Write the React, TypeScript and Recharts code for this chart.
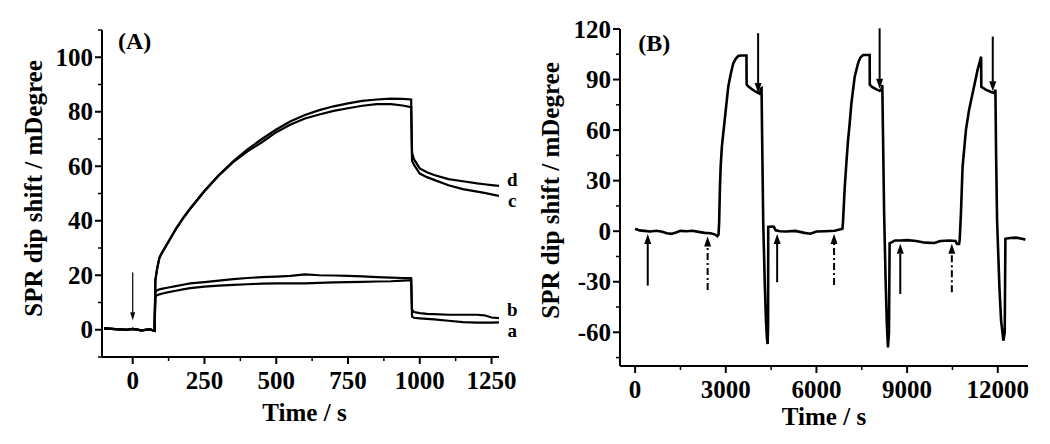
import { LineChart, Line, XAxis, YAxis, ReferenceLine, ReferenceDot } from 'recharts';

const FONT = "'Liberation Serif', 'Times New Roman', serif";

// ---- panel (A) ----
const timeA = [
  -100, -60, -20, 0, 30, 60, 76, 79, 85, 93, 100, 125, 150, 175, 200, 250, 300, 350, 400, 450, 500,
  550, 600, 650, 700, 750, 800, 850, 900, 940, 970, 973, 980, 1000, 1025, 1050, 1100, 1150, 1200,
  1225, 1250, 1276,
];
const baseA = [0.5, 0.2, 0, 0.3, -0.2, 0.1, -0.4];
const curveD = [...baseA,
  18.5, 22.5, 26.5, 28, 32.5, 37, 41, 44.5, 51, 56.8, 61.8, 66.2, 70, 73.5, 76.5, 78.8, 80.6, 82,
  83.1, 84, 84.5, 84.8, 84.7, 84.5, 65, 62.5, 59.2, 57.8, 56.8, 55.3, 54.5, 53.7, 53.4, 53.1, 52.8];
const curveC = [...baseA,
  18, 22.3, 26.3, 27.8, 32.3, 36.8, 40.8, 44.3, 50.8, 56.6, 61.5, 65.5, 68.8, 72.5, 75.3, 77.5, 79,
  80.3, 81.3, 82.2, 82.8, 82.8, 82.3, 81.7, 62, 60.5, 57.3, 56, 55, 53, 51.6, 50.7, 50.2, 49.7, 49.1];
const curveB = [...baseA,
  14, 14.5, 14.8, 15, 15.5, 16, 16.5, 17, 17.5, 18, 18.6, 19, 19.3, 19.5, 19.8, 20.3, 20, 19.9, 19.8,
  19.6, 19.3, 19.1, 19, 19, 7.5, 6.5, 6.1, 5.8, 5.7, 5.5, 5.5, 5.5, 5.3, 4.5, 4.3];
const curveA = [...baseA,
  12.3, 12.7, 13, 13.2, 13.8, 14.3, 14.8, 15.3, 15.8, 16.2, 16.5, 16.7, 16.9, 17, 17, 17, 17.2, 17.4,
  17.5, 17.6, 17.7, 17.8, 18, 18.2, 4.8, 4.4, 4.2, 4, 3.8, 3.3, 2.8, 2.6, 2.6, 2.6, 2.7];
const curveLabelsA = [
  { name: 'd', t: 1322, v: 55.3 },
  { name: 'c', t: 1322, v: 47.3 },
  { name: 'b', t: 1322, v: 7.6 },
  { name: 'a', t: 1322, v: -0.4 },
];
const arrowsA = [{ t: 0, from: 21, to: 3.5 }];
const xTicksA = [0, 125, 250, 375, 500, 625, 750, 875, 1000, 1125, 1250];
const xMajorA = [0, 250, 500, 750, 1000, 1250];
const yTicksA = [-10, 0, 10, 20, 30, 40, 50, 60, 70, 80, 90, 100, 110];
const yMajorA = [0, 20, 40, 60, 80, 100];

// ---- panel (B) ----
const timeB = [
  0, 150, 300, 500, 700, 900, 1050, 1200, 1350, 1500, 1700, 1900, 2100, 2300, 2500, 2650, 2720, 2760,
  2780, 2807, 2830, 2870, 2917, 3000, 3082, 3160, 3247, 3330, 3412, 3500, 3685, 3690, 3750, 3900,
  4050, 4130, 4160, 4184, 4200, 4238, 4293, 4330, 4360, 4385, 4400, 4405, 4500, 4590, 4650, 4800,
  5000, 5300, 5600, 5800, 6000, 6300, 6600, 6800, 6860, 6880, 6936, 7000, 7046, 7100, 7156, 7266,
  7376, 7450, 7541, 7761, 7765, 7850, 8000, 8091, 8150, 8179, 8200, 8240, 8290, 8330, 8366, 8400,
  8421, 8500, 8600, 8800, 9000, 9300, 9600, 9900, 10100, 10400, 10600, 10650, 10720, 10740, 10780,
  10835, 10946, 11050, 11166, 11330, 11449, 11455, 11600, 11800, 11880, 11922, 11944, 11977, 12054,
  12109, 12186, 12230, 12252, 12400, 12600, 12800, 12913,
];
const shiftB = [
  1.4, 0.5, 0.2, -0.2, 0.3, -0.3, -1.2, -1.6, -0.8, 0.2, 0, 0.3, -0.4, -1, -1.2, -2, -3, -2,
  5, 26, 38, 50, 58, 72, 85.7, 93, 99.6, 102.3, 104, 104.3, 104.3, 87, 85.8, 83.8,
  82.2, 81.5, 84.5, 84.8, 60, 6, -33, -53, -63, -67, -55, 2.6, 2.8, 2.6, 0.5, 0,
  -0.2, 0.2, -1, -1.5, -0.2, 0, 0.3, 1.2, 1.5, 6, 26, 43, 54, 64, 75.8, 91.7,
  99.6, 103, 104.6, 104.6, 87, 85.5, 84, 83.3, 84, 86.7, 60, 10, -30, -55, -69, -60,
  -7.2, -6.5, -5.5, -5.5, -5.3, -5.8, -6.8, -7, -5.8, -5.5, -5.8, -7.5, -7.5, -5, 10,
  38, 60, 72, 81.7, 95.6, 103.6, 85.7, 84, 82.5, 82, 84, 46, 6.4, -33,
  -53, -65, -60, -4.5, -4, -3.8, -4.5, -5,
];
const arrowsB = [
  { t: 418, from: -32.3, to: -1.6, dash: false },
  { t: 2400, from: -34.9, to: -3.2, dash: true },
  { t: 4700, from: -30.3, to: -1.6, dash: false },
  { t: 6583, from: -31.9, to: -1.6, dash: true },
  { t: 8774, from: -37.3, to: -7.5, dash: false },
  { t: 10480, from: -36.3, to: -7.5, dash: true },
  { t: 4070, from: 117.5, to: 82, dash: false },
  { t: 8091, from: 120.4, to: 84.5, dash: false },
  { t: 11834, from: 115.5, to: 83, dash: false },
];
const xTicksB = [0, 1500, 3000, 4500, 6000, 7500, 9000, 10500, 12000];
const xMajorB = [0, 3000, 6000, 9000, 12000];
const yTicksB = [-75, -60, -45, -30, -15, 0, 15, 30, 45, 60, 75, 90, 105, 120];
const yMajorB = [-60, -30, 0, 30, 60, 90, 120];

const rowsA = timeA.map((t, i) => ({ t, a: curveA[i], b: curveB[i], c: curveC[i], d: curveD[i] }));
const rowsB = timeB.map((t, i) => ({ t, v: shiftB[i] }));

const textStyle = { fontFamily: FONT, fontWeight: 'bold' as const, fill: '#000' };

function XTick(props: any) {
  const { x, y, payload, majors } = props;
  const major = majors.includes(payload.value);
  return (
    <g>
      <line x1={x} y1={y} x2={x} y2={y + (major ? 7 : 4)} stroke="#000" strokeWidth={major ? 2 : 1.5} />
      {major && (
        <text x={x} y={y + 32} textAnchor="middle" fontSize={25} {...textStyle}>
          {payload.value}
        </text>
      )}
    </g>
  );
}

function YTick(props: any) {
  const { x, y, payload, majors } = props;
  const major = majors.includes(payload.value);
  return (
    <g>
      <line x1={x} y1={y} x2={x - (major ? 7 : 4)} y2={y} stroke="#000" strokeWidth={major ? 2 : 1.5} />
      {major && (
        <text x={x - 9} y={y + 8.5} textAnchor="end" fontSize={25} {...textStyle}>
          {payload.value}
        </text>
      )}
    </g>
  );
}

function arrowShape(width: number, headLen: number, headW: number, dash: boolean) {
  return (p: any) => {
    const { x1, y1, x2, y2 } = p;
    const dir = y2 > y1 ? 1 : -1;
    const base = y2 - dir * headLen;
    return (
      <g>
        <line x1={x1} y1={y1} x2={x2} y2={base} stroke="#000" strokeWidth={width}
          strokeDasharray={dash ? '7 3 2 3' : undefined} />
        <polygon points={`${x2},${y2} ${x2 - headW},${base} ${x2 + headW},${base}`} fill="#000" />
      </g>
    );
  };
}

function textShape(text: string, size: number) {
  return (p: any) => (
    <text x={p.cx} y={p.cy + size * 0.34} textAnchor="middle" fontSize={size} {...textStyle}>
      {text}
    </text>
  );
}

const axisTitle = { fontFamily: FONT, fontWeight: 'bold', fontSize: 25, fill: '#000' };

export default function App() {
  return (
    <div style={{ position: 'absolute', left: 0, top: 0, width: 1050, height: 444, display: 'flex', background: '#fff' }}>
      <LineChart width={525} height={444} data={rowsA} margin={{ top: 30, right: 26, bottom: 0, left: 0 }}>
        <XAxis dataKey="t" type="number" domain={[-107, 1276]} ticks={xTicksA} interval={0}
          allowDataOverflow height={87} tickSize={0} tickMargin={0} tickLine={false}
          axisLine={{ stroke: '#000', strokeWidth: 2 }} tick={<XTick majors={xMajorA} />}
          label={{ value: 'Time / s', position: 'center', dx: 4, dy: 12, style: axisTitle }} />
        <YAxis type="number" domain={[-10, 110]} ticks={yTicksA} interval={0} allowDataOverflow
          width={102} tickSize={0} tickMargin={0} tickLine={false}
          axisLine={{ stroke: '#000', strokeWidth: 2 }} tick={<YTick majors={yMajorA} />}
          label={{ value: 'SPR dip shift / mDegree', angle: -90, position: 'center', dx: -18, dy: -5, style: axisTitle }} />
        {['a', 'b', 'c', 'd'].map((k) => (
          <Line key={k} dataKey={k} type="linear" stroke="#000" strokeWidth={2.2} dot={false}
            isAnimationActive={false} />
        ))}
        {arrowsA.map((ar, i) => (
          <ReferenceLine key={i} segment={[{ x: ar.t, y: ar.from }, { x: ar.t, y: ar.to }]}
            ifOverflow="visible" shape={arrowShape(1.2, 8, 2.5, false)} />
        ))}
        {curveLabelsA.map((l) => (
          <ReferenceDot key={l.name} x={l.t} y={l.v} r={0} ifOverflow="visible" shape={textShape(l.name, 19)} />
        ))}
        <ReferenceDot x={7} y={106} r={0} ifOverflow="visible" shape={textShape('(A)', 24)} />
      </LineChart>
      <LineChart width={525} height={444} data={rowsB} margin={{ top: 29, right: 22, bottom: 0, left: 0 }}>
        <XAxis dataKey="t" type="number" domain={[-500, 13000]} ticks={xTicksB} interval={0}
          allowDataOverflow height={78} tickSize={0} tickMargin={0} tickLine={false}
          axisLine={{ stroke: '#000', strokeWidth: 2 }} tick={<XTick majors={xMajorB} />}
          label={{ value: 'Time / s', position: 'center', dx: 0, dy: 11, style: axisTitle }} />
        <YAxis type="number" domain={[-80, 120]} ticks={yTicksB} interval={0} allowDataOverflow
          width={95} tickSize={0} tickMargin={0} tickLine={false}
          axisLine={{ stroke: '#000', strokeWidth: 2 }} tick={<YTick majors={yMajorB} />}
          label={{ value: 'SPR dip shift / mDegree', angle: -90, position: 'center', dx: -22, dy: -7, style: axisTitle }} />
        <Line dataKey="v" type="linear" stroke="#000" strokeWidth={2.6} dot={false} isAnimationActive={false} />
        {arrowsB.map((ar, i) => (
          <ReferenceLine key={i} segment={[{ x: ar.t, y: ar.from }, { x: ar.t, y: ar.to }]}
            ifOverflow="visible" shape={arrowShape(2, 10, 3.5, ar.dash)} />
        ))}
        <ReferenceDot x={636} y={112} r={0} ifOverflow="visible" shape={textShape('(B)', 24)} />
      </LineChart>
    </div>
  );
}
